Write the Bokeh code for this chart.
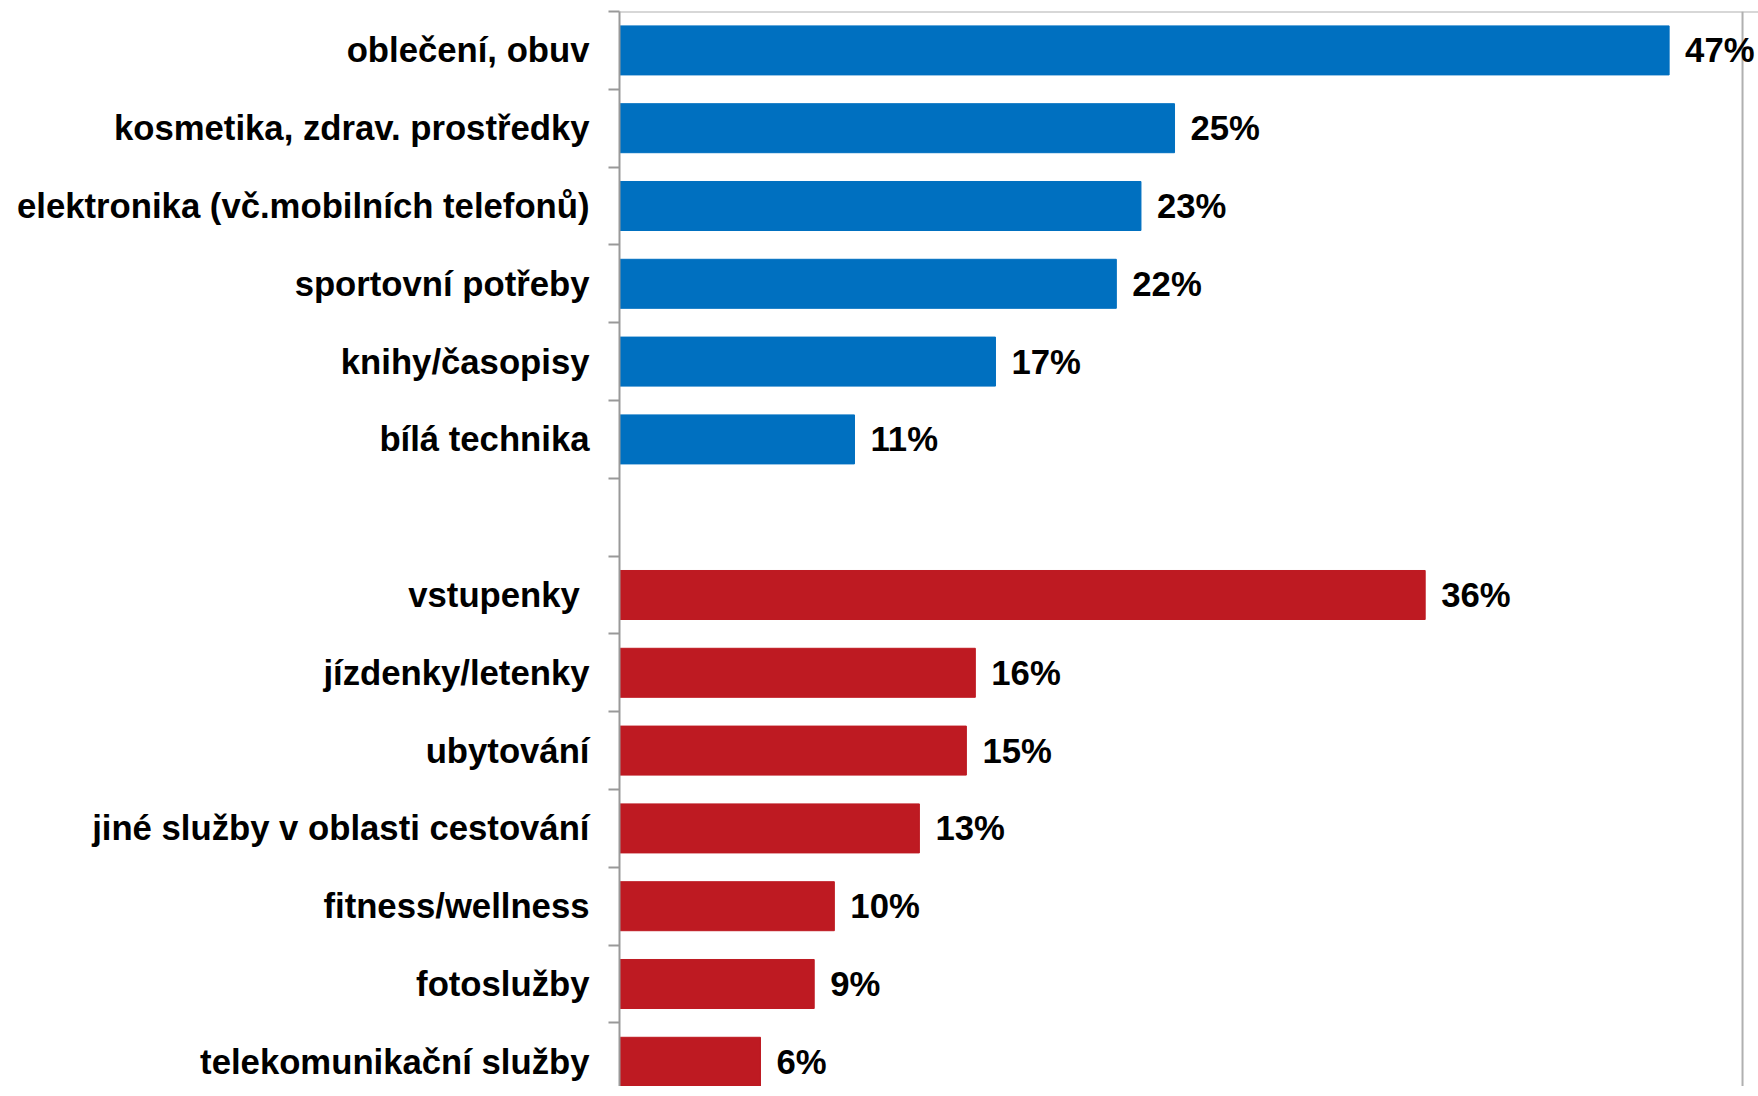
from bokeh.plotting import figure
from bokeh.models import ColumnDataSource, Range1d, FixedTicker, LabelSet, Span
from bokeh.core.properties import value
from bokeh.embed import file_html
from bokeh.resources import INLINE

goods = ["oblečení, obuv", "kosmetika, zdrav. prostředky",
         "elektronika (vč.mobilních telefonů)", "sportovní potřeby",
         "knihy/časopisy", "bílá technika"]
goods_values = [46.9, 24.8, 23.3, 22.2, 16.8, 10.5]
goods_labels = ["47%", "25%", "23%", "22%", "17%", "11%"]

services = ["vstupenky ", "jízdenky/letenky", "ubytování",
            "jiné služby v oblasti cestování", "fitness/wellness",
            "fotoslužby", "telekomunikační služby"]
services_values = [36.0, 15.9, 15.5, 13.4, 9.6, 8.7, 6.3]
services_labels = ["36%", "16%", "15%", "13%", "10%", "9%", "6%"]

BLUE = "#0070C0"
RED = "#BE1A22"
FONT = "Liberation Sans"
FS = "34.7px"

names = goods + [""] + services
n_slots = len(names)
goods_pos = list(range(len(goods)))
services_pos = list(range(len(goods) + 1, n_slots))

src = ColumnDataSource(dict(
    y=goods_pos + services_pos,
    v=goods_values + services_values,
    lab=goods_labels + services_labels,
    color=[BLUE] * len(goods) + [RED] * len(services),
))

W, H = 1758, 1086
LEFT = 619
px_per_unit = 22.38
border_x = 50.18                      # plot-area right border (value units)
x_range_end = (W - LEFT) / px_per_unit  # frame extends to canvas edge so labels are not clipped
y_bottom = -0.5 + (H - 11) / 77.8
p = figure(width=W, height=H, output_backend="svg", toolbar_location=None,
           x_range=Range1d(0, x_range_end),
           y_range=Range1d(y_bottom, -0.5),
           min_border_left=LEFT, min_border_right=0,
           min_border_top=11, min_border_bottom=0)
p.xaxis.visible = False
p.grid.visible = False
p.outline_line_color = None
p.background_fill_color = "white"
p.border_fill_color = "white"

p.hbar(y="y", right="v", left=0, height=0.63, color="color", source=src)

p.add_layout(Span(location=border_x, dimension="height", line_color="#B0B0B0", line_width=2))
p.add_layout(Span(location=-0.5, dimension="width", line_color="#B0B0B0", line_width=2))

p.add_layout(LabelSet(x="v", y="y", text="lab", source=src, x_offset=16,
                      text_baseline="middle", text_align="left",
                      text_font=value(FONT), text_font_style="bold",
                      text_font_size=value(FS), text_color="black"))

ax = p.yaxis[0]
ax.ticker = FixedTicker(ticks=list(range(n_slots)),
                        minor_ticks=[i - 0.5 for i in range(n_slots + 1)])
ax.major_label_overrides = {i: nm for i, nm in enumerate(names)}
ax.major_tick_out = 0
ax.major_tick_in = 0
ax.minor_tick_out = 11
ax.minor_tick_in = 0
ax.minor_tick_line_color = "#999999"
ax.minor_tick_line_width = 2
ax.axis_line_color = "#999999"
ax.axis_line_width = 2
ax.major_label_standoff = 19
ax.major_label_text_font = FONT
ax.major_label_text_font_style = "bold"
ax.major_label_text_font_size = FS
ax.major_label_text_color = "black"

open("out.html", "w").write(file_html(p, INLINE))
